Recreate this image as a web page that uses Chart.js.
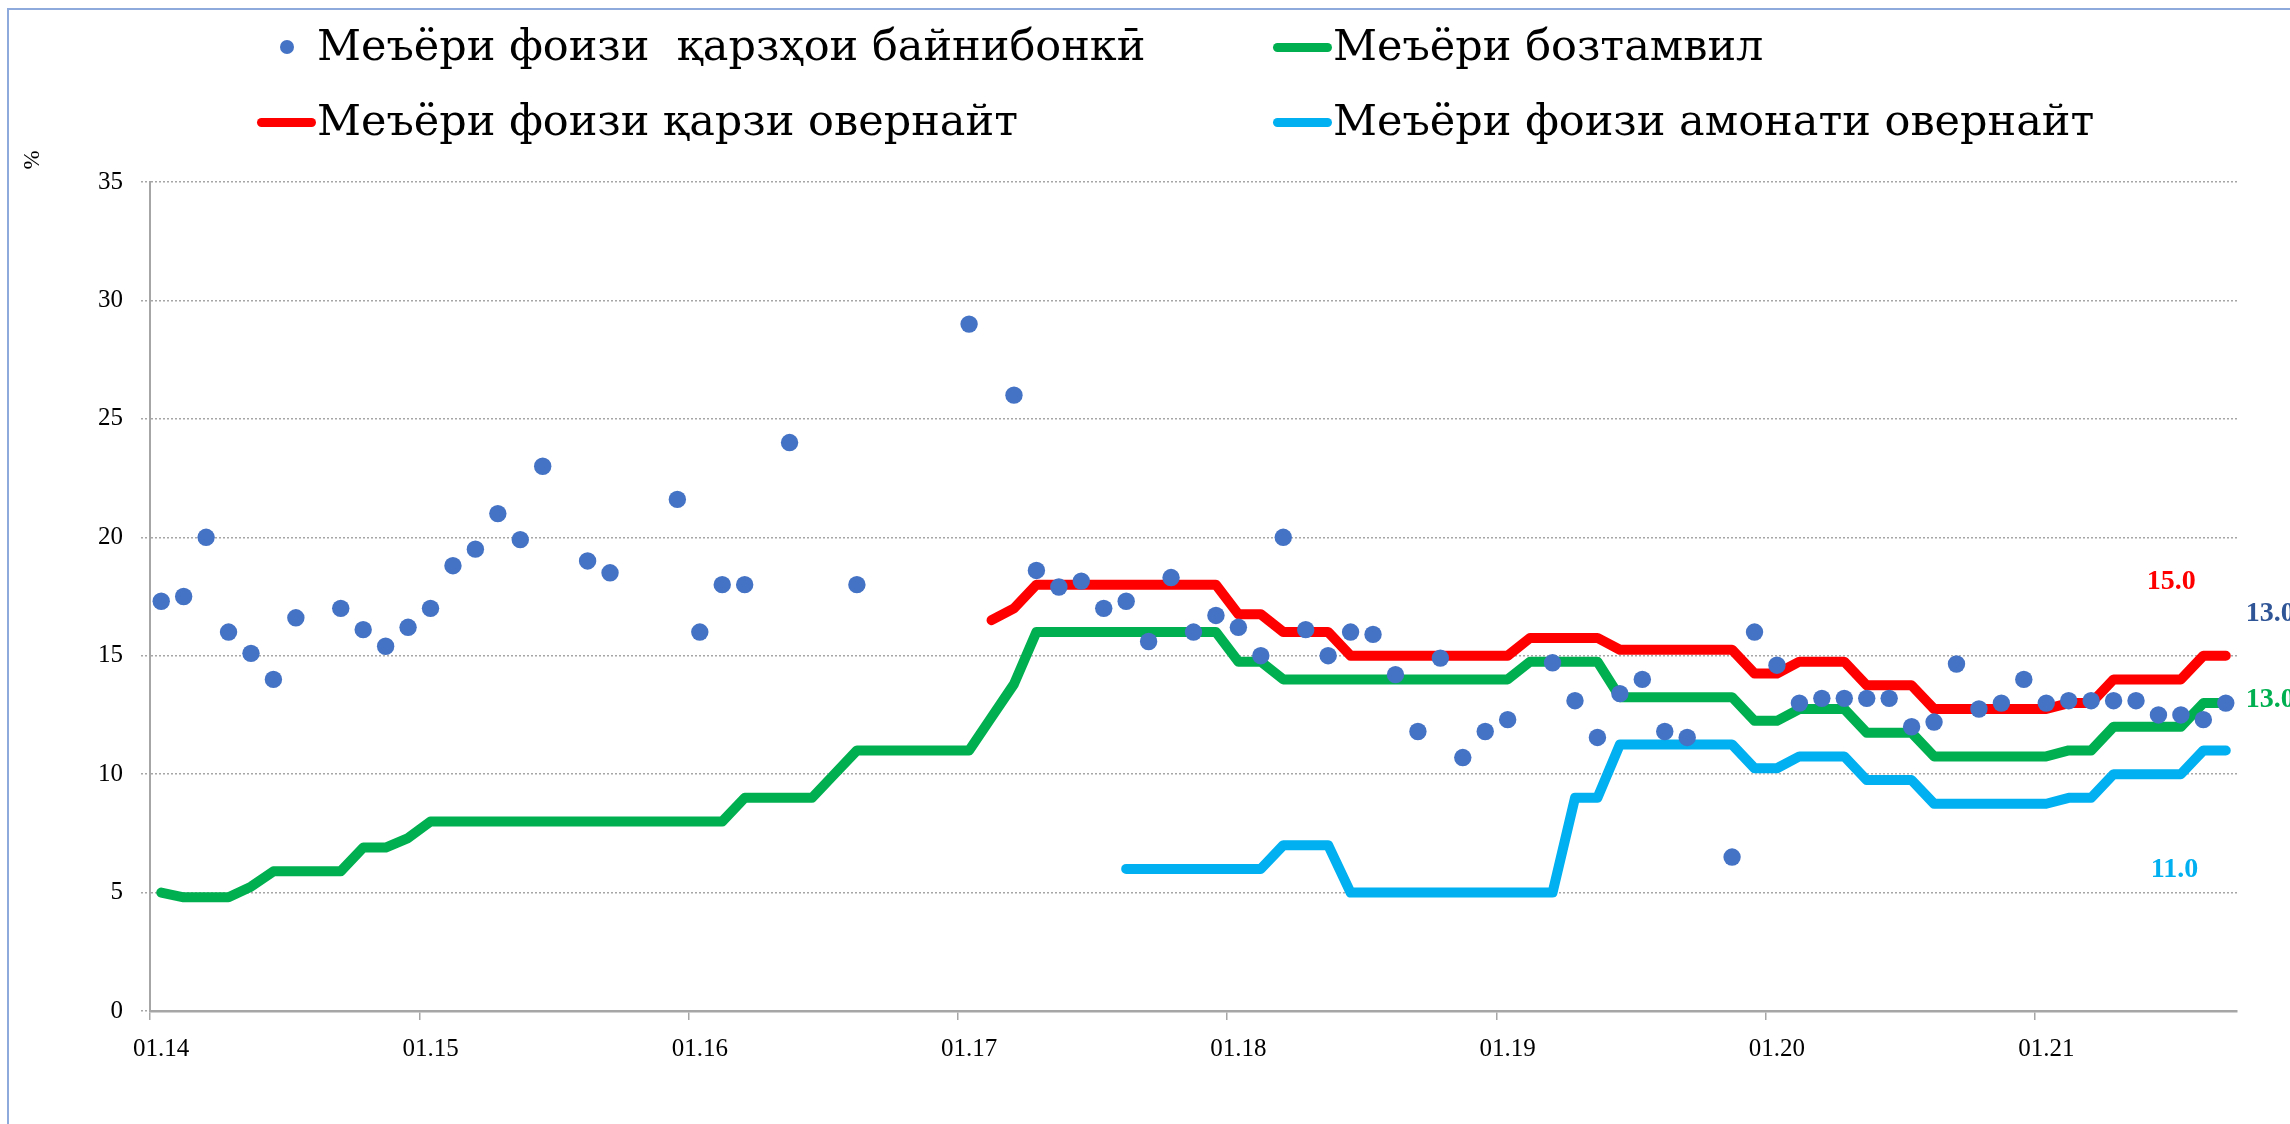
<!DOCTYPE html>
<html>
<head>
<meta charset="utf-8">
<script src="https://cdn.jsdelivr.net/npm/chart.js@4.4.1/dist/chart.umd.min.js"></script>
<style>
html,body{margin:0;padding:0;background:#fff;}
#wrap{position:relative;width:2290px;height:1124px;overflow:hidden;background:#fff;}
#c{position:absolute;left:0;top:0;}
#legend{position:absolute;left:0;top:0;width:2290px;height:170px;pointer-events:none;}
.lt{position:absolute;white-space:pre;font-family:'DejaVu Serif';font-size:43px;line-height:43px;color:#000;}
.mk{position:absolute;}
</style>
</head>
<body>
<div id="wrap"><canvas id="c" width="2290" height="1124"></canvas><div id="legend"></div></div>
<script>
const categories = [
 "01.14","02.14","03.14","04.14","05.14","06.14","07.14","08.14","09.14","10.14","11.14","12.14",
 "01.15","02.15","03.15","04.15","05.15","06.15","07.15","08.15","09.15","10.15","11.15","12.15",
 "01.16","02.16","03.16","04.16","05.16","06.16","07.16","08.16","09.16","10.16","11.16","12.16",
 "01.17","02.17","03.17","04.17","05.17","06.17","07.17","08.17","09.17","10.17","11.17","12.17",
 "01.18","02.18","03.18","04.18","05.18","06.18","07.18","08.18","09.18","10.18","11.18","12.18",
 "01.19","02.19","03.19","04.19","05.19","06.19","07.19","08.19","09.19","10.19","11.19","12.19",
 "01.20","02.20","03.20","04.20","05.20","06.20","07.20","08.20","09.20","10.20","11.20","12.20",
 "01.21","02.21","03.21","04.21","05.21","06.21","07.21","08.21","09.21"
];
const tickLabels = ["01.14","01.15","01.16","01.17","01.18","01.19","01.20","01.21"];
const seriesNames = [
 "Меъёри фоизи  қарзҳои байнибонкӣ",
 "Меъёри бозтамвил",
 "Меъёри фоизи қарзи овернайт",
 "Меъёри фоизи амонати овернайт"
];
const interbankRate = [
 17.3, 17.5, 20.0, 16.0, 15.1, 14.0, 16.6, null, 17.0, 16.1, 15.4, 16.2,
 17.0, 18.8, 19.5, 21.0, 19.9, 23.0, null, 19.0, 18.5, null, null, 21.6,
 16.0, 18.0, 18.0, null, 24.0, null, null, 18.0, null, null, null, null,
 29.0, null, 26.0, 18.6, 17.9, 18.15, 17.0, 17.3, 15.6, 18.3, 16.0, 16.7,
 16.2, 15.0, 20.0, 16.1, 15.0, 16.0, 15.9, 14.2, 11.8, 14.9, 10.7, 11.8,
 12.3, null, 14.7, 13.1, 11.55, 13.4, 14.0, 11.8, 11.55, null, 6.5, 16.0,
 14.6, 13.0, 13.2, 13.2, 13.2, 13.2, 12.0, 12.2, 14.65, 12.75, 13.0, 14.0,
 13.0, 13.1, 13.1, 13.1, 13.1, 12.5, 12.5, 12.3, 13.0
];
const refinancingRate = [
 5.0, 4.8, 4.8, 4.8, 5.25, 5.9, 5.9, 5.9, 5.9, 6.9, 6.9, 7.3,
 8.0, 8.0, 8.0, 8.0, 8.0, 8.0, 8.0, 8.0, 8.0, 8.0, 8.0, 8.0,
 8.0, 8.0, 9.0, 9.0, 9.0, 9.0, 10.0, 11.0, 11.0, 11.0, 11.0, 11.0,
 11.0, 12.4, 13.8, 16.0, 16.0, 16.0, 16.0, 16.0, 16.0, 16.0, 16.0, 16.0,
 14.75, 14.75, 14.0, 14.0, 14.0, 14.0, 14.0, 14.0, 14.0, 14.0, 14.0, 14.0,
 14.0, 14.75, 14.75, 14.75, 14.75, 13.25, 13.25, 13.25, 13.25, 13.25, 13.25, 12.25,
 12.25, 12.75, 12.75, 12.75, 11.75, 11.75, 11.75, 10.75, 10.75, 10.75, 10.75, 10.75,
 10.75, 11.0, 11.0, 12.0, 12.0, 12.0, 12.0, 13.0, 13.0
];
const overnightLoanRate = [
 null, null, null, null, null, null, null, null, null, null, null, null,
 null, null, null, null, null, null, null, null, null, null, null, null,
 null, null, null, null, null, null, null, null, null, null, null, null,
 null, 16.5, 17.0, 18.0, 18.0, 18.0, 18.0, 18.0, 18.0, 18.0, 18.0, 18.0,
 16.75, 16.75, 16.0, 16.0, 16.0, 15.0, 15.0, 15.0, 15.0, 15.0, 15.0, 15.0,
 15.0, 15.75, 15.75, 15.75, 15.75, 15.25, 15.25, 15.25, 15.25, 15.25, 15.25, 14.25,
 14.25, 14.75, 14.75, 14.75, 13.75, 13.75, 13.75, 12.75, 12.75, 12.75, 12.75, 12.75,
 12.75, 13.0, 13.0, 14.0, 14.0, 14.0, 14.0, 15.0, 15.0
];
const overnightDepositRate = [
 null, null, null, null, null, null, null, null, null, null, null, null,
 null, null, null, null, null, null, null, null, null, null, null, null,
 null, null, null, null, null, null, null, null, null, null, null, null,
 null, null, null, null, null, null, null, 6.0, 6.0, 6.0, 6.0, 6.0,
 6.0, 6.0, 7.0, 7.0, 7.0, 5.0, 5.0, 5.0, 5.0, 5.0, 5.0, 5.0,
 5.0, 5.0, 5.0, 9.0, 9.0, 11.25, 11.25, 11.25, 11.25, 11.25, 11.25, 10.25,
 10.25, 10.75, 10.75, 10.75, 9.75, 9.75, 9.75, 8.75, 8.75, 8.75, 8.75, 8.75,
 8.75, 9.0, 9.0, 10.0, 10.0, 10.0, 10.0, 11.0, 11.0
];

const AXIS_GREY = '#A6A6A6';
const TICK_FONT = {family: 'Liberation Serif', size: 25};

// legend grid placement (column, row) per dataset
const legendSlots = [[0,0],[1,0],[0,1],[1,1]];
const legendColX = [257, 1273];
const legendRowY = [47, 122];

const htmlLegend = {
  id: 'htmlLegend',
  afterUpdate(chart) {
    const box = document.getElementById('legend');
    box.innerHTML = '';
    chart.data.datasets.forEach((ds, i) => {
      const [col, row] = legendSlots[i];
      const x = legendColX[col], cy = legendRowY[row];
      const mk = document.createElement('div');
      mk.className = 'mk';
      if (ds.showLine === false) {
        const d = 14;
        mk.style.cssText = `left:${x + 29.5 - d/2}px;top:${cy - d/2}px;width:${d}px;height:${d}px;border-radius:50%;background:${ds.backgroundColor};`;
      } else {
        mk.style.cssText = `left:${x}px;top:${cy - 4.5}px;width:59px;height:9px;border-radius:4.5px;background:${ds.borderColor};`;
      }
      box.appendChild(mk);
      const t = document.createElement('div');
      t.className = 'lt';
      t.textContent = ds.label;
      t.style.left = (x + 60) + 'px';
      t.style.top = (cy + 13 - 36.4) + 'px';
      box.appendChild(t);
    });
  }
};

const decorations = {
  id: 'decorations',
  beforeDraw(chart) {
    const ctx = chart.ctx;
    ctx.save();
    ctx.fillStyle = '#fff';
    ctx.fillRect(0, 0, chart.width, chart.height);
    ctx.strokeStyle = '#8EA9DB';
    ctx.lineWidth = 2;
    ctx.beginPath();
    ctx.moveTo(8, chart.height + 5);
    ctx.lineTo(8, 9);
    ctx.lineTo(chart.width + 5, 9);
    ctx.stroke();
    ctx.restore();
  },
  afterDraw(chart) {
    const ctx = chart.ctx;
    const ca = chart.chartArea;
    ctx.save();
    ctx.translate(ca.left - 117, ca.top - 22);
    ctx.rotate(-Math.PI / 2);
    ctx.font = '23px "Liberation Serif"';
    ctx.fillStyle = '#000';
    ctx.textAlign = 'center';
    ctx.textBaseline = 'middle';
    ctx.fillText('%', 0, 0);
    ctx.restore();
  },
  afterDatasetsDraw(chart) {
    const ctx = chart.ctx;
    ctx.save();
    ctx.font = 'bold 28px "Liberation Serif"';
    ctx.textAlign = 'left';
    ctx.textBaseline = 'middle';
    chart.data.datasets.forEach((ds, i) => {
      if (!ds.endLabel) return;
      const meta = chart.getDatasetMeta(i);
      let last = ds.data.length - 1;
      while (last >= 0 && ds.data[last] == null) last--;
      const pt = meta.data[last];
      ctx.fillStyle = ds.endLabel.color;
      ctx.fillText(ds.data[last].toFixed(1), pt.x + ds.endLabel.dx, pt.y + ds.endLabel.dy);
    });
    ctx.restore();
  }
};

const isYearTick = (i) => i !== undefined && tickLabels.includes(categories[i]);

new Chart(document.getElementById('c'), {
  type: 'line',
  data: {
    labels: categories,
    datasets: [
      {
        label: seriesNames[0], data: interbankRate, showLine: false,
        backgroundColor: '#4472C4', borderColor: '#4472C4',
        pointRadius: 8.7, pointBorderWidth: 0, pointHoverRadius: 8.7,
        endLabel: {color: '#2F5597', dx: 20, dy: -89}
      },
      {
        label: seriesNames[1], data: refinancingRate,
        borderColor: '#00B050', backgroundColor: '#00B050', borderWidth: 10,
        pointRadius: 0, tension: 0, borderCapStyle: 'round', borderJoinStyle: 'round',
        endLabel: {color: '#00B050', dx: 20, dy: -3}
      },
      {
        label: seriesNames[2], data: overnightLoanRate,
        borderColor: '#FF0000', backgroundColor: '#FF0000', borderWidth: 10,
        pointRadius: 0, tension: 0, borderCapStyle: 'round', borderJoinStyle: 'round',
        endLabel: {color: '#FF0000', dx: -79, dy: -74}
      },
      {
        label: seriesNames[3], data: overnightDepositRate,
        borderColor: '#00B0F0', backgroundColor: '#00B0F0', borderWidth: 10,
        pointRadius: 0, tension: 0, borderCapStyle: 'round', borderJoinStyle: 'round',
        endLabel: {color: '#00B0F0', dx: -75, dy: 119}
      }
    ]
  },
  options: {
    responsive: false,
    devicePixelRatio: 1,
    animation: false,
    layout: {padding: {top: 182, left: 0, right: 53, bottom: 0}},
    plugins: {legend: {display: false}, tooltip: {enabled: false}, title: {display: false}},
    scales: {
      x: {
        type: 'category',
        offset: true,
        afterFit(scale) { scale.height = 113; },
        grid: {
          offset: true, drawOnChartArea: false, drawTicks: true, tickLength: 9,
          color: (c) => isYearTick(c.index) ? AXIS_GREY : 'rgba(0,0,0,0)',
          tickColor: (c) => isYearTick(c.index) ? AXIS_GREY : 'rgba(0,0,0,0)',
          lineWidth: 1.5, tickWidth: 1.5
        },
        border: {display: true, color: AXIS_GREY, width: 2.5},
        ticks: {
          autoSkip: false, maxRotation: 0, minRotation: 0, padding: 14,
          font: TICK_FONT, color: '#000',
          callback: (v, i) => isYearTick(i) ? categories[i] : ''
        }
      },
      y: {
        min: 0, max: 35,
        afterFit(scale) { scale.width = 150; },
        grid: {
          color: AXIS_GREY, lineWidth: 1.5, tickLength: 9, drawTicks: true,
          tickColor: AXIS_GREY, tickWidth: 1.5, tickBorderDash: [2, 2]
        },
        border: {display: true, color: AXIS_GREY, width: 2, dash: [2, 2]},
        ticks: {stepSize: 5, padding: 18, font: TICK_FONT, color: '#000'}
      }
    }
  },
  plugins: [htmlLegend, decorations]
});
</script>
</body>
</html>
